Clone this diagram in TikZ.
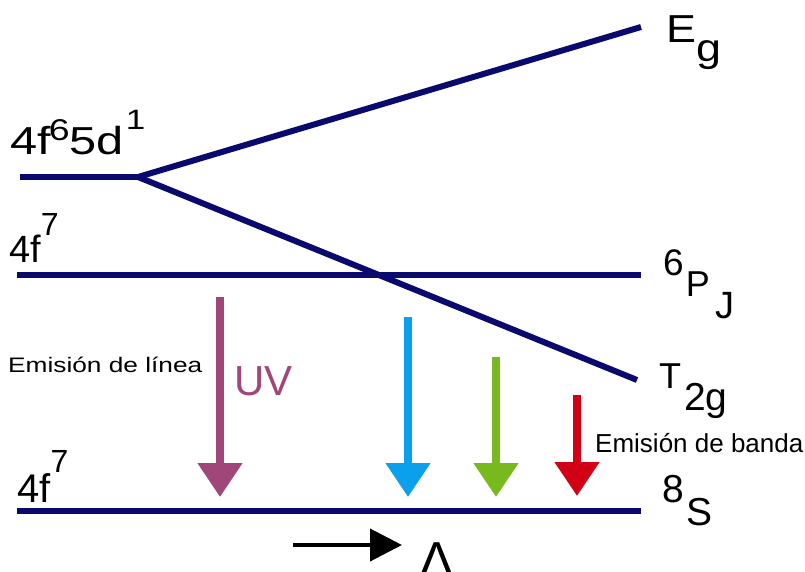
\documentclass[tikz,border=0pt]{standalone}
\usepackage{fontspec}
\setmainfont{Liberation Sans}
\newfontfamily\fN{Liberation Sans}
\newfontfamily\fW[FakeStretch=1.25]{Liberation Sans}
\newfontfamily\fL[FakeStretch=1.25]{Liberation Sans}
\newfontfamily\fE[FakeStretch=1.15]{Liberation Sans}
\usetikzlibrary{arrows.meta}
\definecolor{navy}{RGB}{10,10,110}
\definecolor{uvc}{RGB}{160,70,120}
\definecolor{bluec}{RGB}{10,160,235}
\definecolor{greenc}{RGB}{120,185,30}
\definecolor{redc}{RGB}{210,0,20}
\newcommand\fsz[1]{\fontsize{#1}{#1}\selectfont}
\begin{document}
\begin{tikzpicture}[x=1pt,y=-1pt,
  level/.style={draw=navy,line width=6pt},
  lbl/.style={inner sep=0pt,anchor=base west,font=\fN},
  emis/.style={line width=8pt,-{Triangle[width=43pt,length=34pt]}}]
\useasboundingbox[fill=white] (0,0) rectangle (805,572);
\clip (0,0) rectangle (805,572);
% level coordinates
\coordinate (a1) at (20,177);
\coordinate (br) at (138,177);
\coordinate (eg) at (641,27);
\coordinate (t2) at (637,380);
\coordinate (p1) at (17,275);
\coordinate (p2) at (641,275);
\coordinate (s1) at (17,511);
\coordinate (s2) at (641,511);
% levels
\draw[level] (a1) -- (br);
\draw[level] (br) -- (eg);
\draw[level] (br) -- (t2);
\draw[level] (p1) -- (p2);
\draw[level] (s1) -- (s2);
% arrows
\coordinate (uv1) at (220,297); \coordinate (uv2) at (220,497);
\coordinate (b1) at (408,317); \coordinate (b2) at (408,497);
\coordinate (g1) at (496,357); \coordinate (g2) at (496,497);
\coordinate (r1) at (577,395); \coordinate (r2) at (577,496);
\draw[emis,draw=uvc,fill=uvc] (uv1) -- (uv2);
\draw[emis,draw=bluec,fill=bluec] (b1) -- (b2);
\draw[emis,draw=greenc,fill=greenc] (g1) -- (g2);
\draw[emis,draw=redc,fill=redc] (r1) -- (r2);
% delta arrow
\coordinate (d1) at (293,545); \coordinate (d2) at (402,545);
\draw[line width=4pt,-{Triangle[width=32pt,length=32pt]}] (d1) -- (d2);
\node[inner sep=0pt,anchor=base] (dl) at (437,578) {\fsz{52}Δ};
% labels
\node[lbl] (l5d) at (10,155) {\fW\fsz{39}4f\kern-2pt\raisebox{14pt}{\fsz{30}6}5d\kern2pt\raisebox{25pt}{\fsz{28}1}};
\node[lbl] (lf7a) at (9,262) {\fsz{38}4f\raisebox{27pt}{\fsz{32}7}};
\node[lbl] (lf7b) at (17,502) {\fsz{40}4f\raisebox{30pt}{\fsz{32}7}};
\node[lbl] (leg) at (666,43) {\fE\fsz{39}E\raisebox{-19pt}{g}};
\node[lbl] (lpj) at (663,275) {\fsz{37}6\kern2pt\raisebox{-21pt}{\fsz{36}P\kern6pt\raisebox{-22pt}{\fsz{38}J}}};
\node[lbl] (lt) at (659,388) {\fsz{36}T\kern3pt\raisebox{-22pt}{\fsz{39}2g}};
\node[lbl] (ls) at (662,502) {\fsz{39}8\kern3pt\raisebox{-23pt}{S}};
\node[lbl] (el) at (8,372) {\fL\fsz{21}Emisión de línea};
\node[lbl] (eb) at (595,452) {\fsz{26}Emisión de banda};
\node[lbl,text=uvc] (uv) at (234,395) {\fsz{42}UV};
\end{tikzpicture}
\end{document}
